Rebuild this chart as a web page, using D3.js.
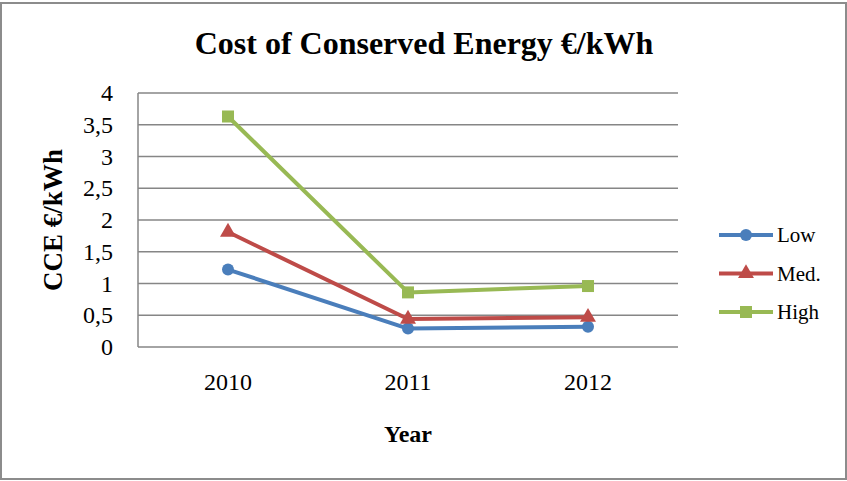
<!DOCTYPE html>
<html>
<head>
<meta charset="utf-8">
<script src="https://d3js.org/d3.v7.min.js"></script>
<style>
  body { margin: 0; background: #fff; }
  text { font-family: "Liberation Serif", "Times New Roman", serif; fill: #000; }
  .grid line { stroke: #868686; stroke-width: 1.5px; }
  .series { fill: none; stroke-width: 4px; stroke-linejoin: round; }
</style>
</head>
<body>
<script>
// data
var years = ["2010", "2011", "2012"];
var low  = [1.22, 0.29, 0.32];
var med  = [1.81, 0.44, 0.47];
var high = [3.63, 0.86, 0.96];
var yTicks = [0, 0.5, 1, 1.5, 2, 2.5, 3, 3.5, 4];

var series = [
  {name: "Low",  values: low,  color: "#4a7ebb", marker: "circle"},
  {name: "Med.", values: med,  color: "#be4b48", marker: "triangle"},
  {name: "High", values: high, color: "#98b954", marker: "square"}
];

var W = 847, H = 481;
var plot = {left: 138, right: 678, top: 93, bottom: 347};

var svg = d3.select("body").append("svg")
  .attr("width", W).attr("height", H);

// outer frame
svg.append("rect")
  .attr("x", 1).attr("y", 3).attr("width", W - 2).attr("height", H - 5)
  .attr("fill", "#fff").attr("stroke", "#8c8c8c").attr("stroke-width", 2);

var x = d3.scaleBand().domain(years).range([plot.left, plot.right]);
var y = d3.scaleLinear().domain([0, 4]).range([plot.bottom, plot.top]);

// gridlines
svg.append("g").attr("class", "grid")
  .selectAll("line").data(yTicks).enter().append("line")
  .attr("x1", plot.left).attr("x2", plot.right)
  .attr("y1", function(d){ return y(d); })
  .attr("y2", function(d){ return y(d); });

// vertical axis line
svg.append("line")
  .attr("x1", plot.left).attr("x2", plot.left)
  .attr("y1", plot.top).attr("y2", plot.bottom)
  .attr("stroke", "#868686").attr("stroke-width", 1.5);

// y tick labels (comma decimals)
var yAxis = svg.append("g")
  .attr("transform", "translate(" + plot.left + ",0)")
  .call(d3.axisLeft(y).tickValues(yTicks).tickSize(0).tickPadding(25)
    .tickFormat(function(d){ return String(d).replace(".", ","); }));
yAxis.select(".domain").remove();
yAxis.selectAll("text")
  .style("font-family", "Liberation Serif").style("font-size", "24px");

// x tick labels
var xAxis = svg.append("g")
  .attr("transform", "translate(0," + plot.bottom + ")")
  .call(d3.axisBottom(x).tickSize(0).tickPadding(26));
xAxis.select(".domain").remove();
xAxis.selectAll("text")
  .style("font-family", "Liberation Serif").style("font-size", "24px");

// titles
svg.append("text")
  .attr("x", 424).attr("y", 54)
  .attr("text-anchor", "middle")
  .style("font-size", "32px").style("font-weight", "bold")
  .text("Cost of Conserved Energy €/kWh");

svg.append("text")
  .attr("x", 408).attr("y", 442)
  .attr("text-anchor", "middle")
  .style("font-size", "24px").style("font-weight", "bold")
  .text("Year");

svg.append("text")
  .attr("transform", "translate(62,220) rotate(-90)")
  .attr("text-anchor", "middle")
  .style("font-size", "27px").style("font-weight", "bold")
  .text("CCE €/kWh");

var line = d3.line()
  .x(function(d, i){ return x(years[i]) + x.bandwidth() / 2; })
  .y(function(d){ return y(d); });

function drawMarker(g, type, color) {
  if (type === "circle") {
    g.append("circle").attr("r", 6).attr("fill", color);
  } else if (type === "triangle") {
    g.append("path").attr("d", d3.symbol().type(d3.symbolTriangle).size(110)())
      .attr("fill", color);
  } else {
    g.append("rect").attr("x", -6).attr("y", -6).attr("width", 12).attr("height", 12)
      .attr("fill", color);
  }
}

series.forEach(function(s) {
  svg.append("path").datum(s.values)
    .attr("class", "series")
    .attr("stroke", s.color)
    .attr("d", line);
  s.values.forEach(function(v, i) {
    var g = svg.append("g")
      .attr("transform", "translate(" + (x(years[i]) + x.bandwidth() / 2) + "," + y(v) + ")");
    drawMarker(g, s.marker, s.color);
  });
});

// legend
var legend = svg.append("g");
series.forEach(function(s, i) {
  var ly = 235 + i * 38.5;
  legend.append("line")
    .attr("x1", 719).attr("x2", 773).attr("y1", ly).attr("y2", ly)
    .attr("stroke", s.color).attr("stroke-width", 4);
  var g = legend.append("g").attr("transform", "translate(746," + ly + ")");
  drawMarker(g, s.marker, s.color);
  legend.append("text")
    .attr("x", 777).attr("y", ly + 7)
    .style("font-size", "21px")
    .text(s.name);
});
</script>
</body>
</html>
